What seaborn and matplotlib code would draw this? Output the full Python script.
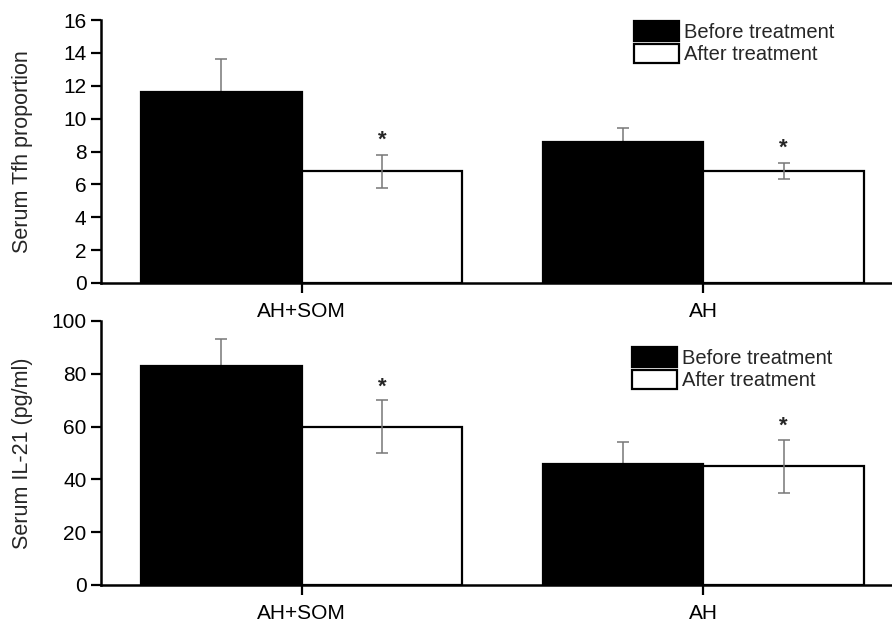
import numpy as np
import pandas as pd
import matplotlib
matplotlib.use("Agg")
import matplotlib.pyplot as plt
import seaborn as sns

# dados
grupos = ["AH+SOM", "AH"]
fases = ["Before treatment", "After treatment"]

tfh_antes = [11.6, 8.6]
tfh_antes_err = [2.0, 0.8]
tfh_depois = [6.8, 6.8]
tfh_depois_err = [1.0, 0.5]

il21_antes = [83, 46]
il21_antes_err = [10, 8]
il21_depois = [60, 45]
il21_depois_err = [10, 10]

sns.set_style("ticks")
plt.rcParams['font.family'] = ['Liberation Sans', 'DejaVu Sans']

fig = plt.figure(figsize=(8.92, 6.25), dpi=100)
ax1 = fig.add_axes([0.1132, 0.5472, 0.8868, 0.4208])
ax2 = fig.add_axes([0.1132, 0.064, 0.8868, 0.4224])


def painel(ax, antes, antes_err, depois, depois_err, ylabel, yticks, star_off, leg_pos):
    df = pd.DataFrame({
        "grupo": grupos * 2,
        "fase": [fases[0]] * 2 + [fases[1]] * 2,
        "valor": antes + depois,
    })
    sns.barplot(data=df, x="grupo", y="valor", hue="fase", order=grupos, hue_order=fases,
                palette={fases[0]: "black", fases[1]: "white"}, edgecolor="black",
                linewidth=1.6, width=0.8, errorbar=None, ax=ax, zorder=2)

    # barras de erro: "antes" so para cima (atras da barra), "depois" simetrica
    for cont, vals, errs, sym in zip(ax.containers, [antes, depois], [antes_err, depois_err], [False, True]):
        xs = [b.get_x() + b.get_width() / 2 for b in cont]
        ax.errorbar(xs, vals, yerr=errs, fmt="none", ecolor="#777777",
                    elinewidth=1.1, capsize=4, capthick=1.1, zorder=3 if sym else 1)
        if sym:
            for x, v, e in zip(xs, vals, errs):
                ax.annotate("*", (x, v + e), xytext=(0, star_off), textcoords="offset points",
                            ha="center", va="bottom", fontsize=16, fontweight="bold")

    ax.set_xlim(-0.5, 1.47)
    ax.set_ylim(yticks[0], yticks[-1])
    ax.set_yticks(yticks)
    ax.set_xlabel("")
    ax.set_ylabel(ylabel, fontsize=15.5)
    ax.yaxis.set_label_coords(-0.086, 0.5)
    ax.tick_params(axis="both", labelsize=15, direction="out", length=7, width=1.6, colors="black")
    ax.tick_params(axis="x", pad=7)
    sns.despine(ax=ax)
    for s in ["left", "bottom"]:
        ax.spines[s].set_linewidth(1.8)
        ax.spines[s].set_color("black")

    handles, labels = ax.get_legend_handles_labels()
    ax.legend(handles, labels, loc="upper left", bbox_to_anchor=leg_pos, frameon=False,
              fontsize=14.5, handlelength=2.25, handleheight=1.1, handletextpad=0.25,
              labelspacing=0.1, borderpad=0, borderaxespad=0)


painel(ax1, tfh_antes, tfh_antes_err, tfh_depois, tfh_depois_err,
       "Serum Tfh proportion", np.arange(0, 17, 2), 3, (0.674, 0.995))
painel(ax2, il21_antes, il21_antes_err, il21_depois, il21_depois_err,
       "Serum IL-21 (pg/ml)", np.arange(0, 101, 20), 2, (0.671, 0.9))

fig.savefig("out.png", dpi=100)
